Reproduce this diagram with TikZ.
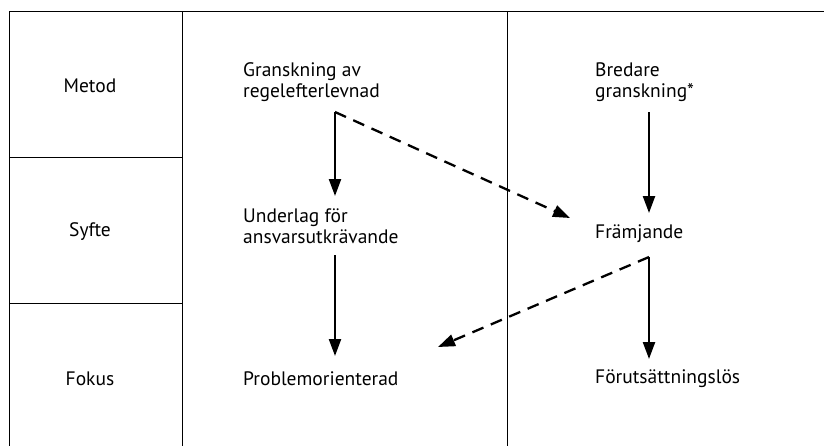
\documentclass[tikz,border=0pt]{standalone}
\usepackage{fontspec}
\setmainfont{PT Sans}
\usetikzlibrary{arrows.meta}
\tikzset{
  lbl/.style={inner sep=0pt, font=\fontsize{19.5}{21}\selectfont},
  item/.style={lbl, anchor=west, align=left},
  flow/.style={-{Triangle[length=17pt,width=12pt]}, line width=2.3pt},
  alt/.style={flow, dash pattern=on 12pt off 8pt},
}
\begin{document}
\begin{tikzpicture}[x=1pt, y=-1pt]
    \useasboundingbox (0, 0) rectangle (824, 445);
    % table frame
    \draw[line width=1pt] (9, 11) -- (830, 11);
    \draw[line width=1pt] (9, 11) -- (9, 460);
    \draw[line width=1pt] (182, 11) -- (182, 460);
    \draw[line width=1pt] (507, 11) -- (507, 460);
    \draw[line width=1pt] (9, 157) -- (182, 157);
    \draw[line width=1pt] (9, 303) -- (182, 303);
    % row heads
    \node[lbl] (metod) at (90, 86) {Metod};
    \node[lbl] (syfte) at (90, 232) {Syfte};
    \node[lbl] (fokus) at (90, 379) {Fokus};
    % left column
    \node[item] (gransk) at (243, 82) {Granskning av\\regelefterlevnad};
    \node[item] (underlag) at (243, 226) {Underlag för\\ansvarsutkrävande};
    \node[item] (problem) at (243, 379) {Problemorienterad};
    % right column
    \node[item] (bredare) at (595, 82) {Bredare\\granskning*};
    \node[item] (framj) at (595, 234) {Främjande};
    \node[item] (forut) at (595, 379) {Förutsättningslös};
    % arrow ends
    \coordinate (g1) at (335, 112);
    \coordinate (u1) at (335, 196);
    \coordinate (u2) at (335, 255);
    \coordinate (p1) at (335, 356);
    \coordinate (b1) at (649, 112);
    \coordinate (f1) at (649, 213);
    \coordinate (f2) at (649, 257);
    \coordinate (r1) at (649, 359);
    \coordinate (fx) at (570, 218);
    \coordinate (px) at (438, 347);
    \draw[flow] (g1) -- (u1);
    \draw[flow] (u2) -- (p1);
    \draw[flow] (b1) -- (f1);
    \draw[flow] (f2) -- (r1);
    \draw[alt] (g1) -- (fx);
    \draw[alt] (f2) -- (px);
\end{tikzpicture}
\end{document}
